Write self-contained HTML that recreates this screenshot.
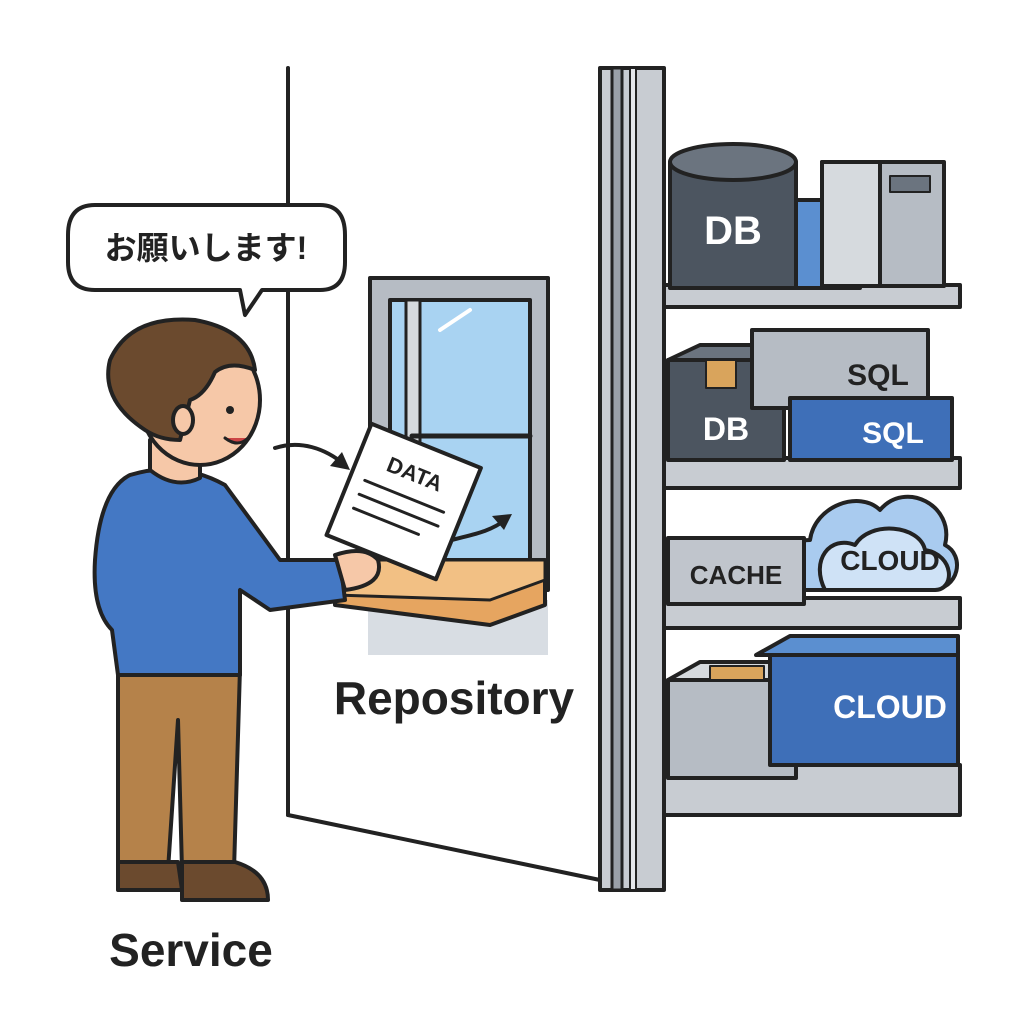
<!DOCTYPE html>
<html><head><meta charset="utf-8"><style>
html,body{margin:0;padding:0;background:#fff;}
svg{display:block;}
text{font-family:"Liberation Sans","Noto Sans CJK JP",sans-serif;font-weight:bold;}
</style></head><body>
<svg width="1024" height="1024" viewBox="0 0 1024 1024" xmlns="http://www.w3.org/2000/svg" stroke-linejoin="round" stroke-linecap="round">
<rect width="1024" height="1024" fill="#fff"/>
<polygon points="288,68 600,68 600,880 288,815" fill="#fff"/>
<line x1="288" y1="68" x2="288" y2="815" stroke="#222" stroke-width="4"/>
<line x1="288" y1="815" x2="600" y2="880" stroke="#222" stroke-width="4"/>
<rect x="600" y="68" width="64" height="822" fill="#c8ccd2" stroke="#222" stroke-width="4"/>
<rect x="612" y="68" width="10" height="822" fill="#9aa0a8" stroke="#222" stroke-width="3"/>
<rect x="630" y="68" width="6" height="822" fill="#e4e6ea" stroke="#222" stroke-width="2"/>
<g stroke="#222" stroke-width="4">
<rect x="664" y="285" width="296" height="22" fill="#c8ccd2"/>
<rect x="664" y="458" width="296" height="30" fill="#c8ccd2"/>
<rect x="664" y="598" width="296" height="30" fill="#c8ccd2"/>
<rect x="664" y="765" width="296" height="50" fill="#c8ccd2"/>
</g>
<g stroke="#222" stroke-width="4">
<rect x="670" y="162" width="126" height="126" fill="#4c5560"/>
<ellipse cx="733" cy="162" rx="63" ry="18" fill="#6b747f"/>
<rect x="796" y="200" width="64" height="88" fill="#5b8fd0"/>
<rect x="822" y="162" width="122" height="124" fill="#b6bcc4"/>
<rect x="822" y="162" width="58" height="124" fill="#d6dade"/>
<rect x="890" y="176" width="40" height="16" fill="#6b747f" stroke-width="2"/>
</g>
<text x="733" y="244" font-size="40" fill="#fff" text-anchor="middle">DB</text>
<g stroke="#222" stroke-width="4">
<rect x="668" y="360" width="116" height="100" fill="#4c5560"/>
<polygon points="668,360 700,345 812,345 784,360" fill="#6b747f"/>
<rect x="706" y="360" width="30" height="28" fill="#d9a45c" stroke-width="2"/>
<rect x="752" y="330" width="176" height="78" fill="#b6bcc4"/>
<rect x="790" y="398" width="162" height="62" fill="#3e6fb8"/>
</g>
<text x="726" y="440" font-size="32" fill="#fff" text-anchor="middle">DB</text>
<text x="878" y="385" font-size="30" fill="#222" text-anchor="middle">SQL</text>
<text x="893" y="443" font-size="30" fill="#fff" text-anchor="middle">SQL</text>
<g stroke="#222" stroke-width="4">
<path d="M790,590 C770,585 775,540 810,540 C815,505 860,490 880,510 C905,480 955,505 945,545 C965,555 960,590 930,590 Z" fill="#a9cbef"/>
<path d="M825,590 C810,560 830,535 855,545 C870,520 920,525 925,550 C955,555 955,590 935,590 Z" fill="#cfe2f6"/>
<rect x="668" y="538" width="136" height="66" fill="#c0c5cc"/>
</g>
<text x="736" y="584" font-size="26" fill="#222" text-anchor="middle">CACHE</text>
<text x="890" y="570" font-size="28" fill="#222" text-anchor="middle">CLOUD</text>
<g stroke="#222" stroke-width="4">
<rect x="668" y="680" width="128" height="98" fill="#b6bcc4"/>
<polygon points="668,680 700,662 824,662 796,680" fill="#d6dade"/>
<rect x="710" y="666" width="54" height="14" fill="#d9a45c" stroke-width="2"/>
<rect x="770" y="655" width="188" height="110" fill="#3e6fb8"/>
<polygon points="756,655 790,636 958,636 958,655" fill="#5b8fd0"/>
</g>
<text x="890" y="718" font-size="32" fill="#fff" text-anchor="middle">CLOUD</text>
<rect x="368" y="600" width="180" height="55" fill="#d8dde3"/>
<rect x="370" y="278" width="178" height="312" fill="#b6bcc4" stroke="#222" stroke-width="4"/>
<rect x="390" y="300" width="140" height="270" fill="#a9d3f2" stroke="#222" stroke-width="4"/>
<rect x="406" y="300" width="14" height="270" fill="#d6dade" stroke="#222" stroke-width="3"/>
<line x1="412" y1="436" x2="530" y2="436" stroke="#222" stroke-width="5"/>
<line x1="440" y1="330" x2="470" y2="310" stroke="#fff" stroke-width="4"/>
<polygon points="335,595 380,560 545,560 545,605 490,625 335,605" fill="#e6a560" stroke="#222" stroke-width="4"/>
<polygon points="335,595 490,600 545,580 545,560 380,560" fill="#f2c084" stroke="#222" stroke-width="3"/>
<path d="M275,448 C300,440 325,448 345,465" fill="none" stroke="#222" stroke-width="4"/>
<polygon points="350,470 330,466 342,452" fill="#222"/>
<path d="M452,540 C470,535 490,532 505,520" fill="none" stroke="#222" stroke-width="4"/>
<polygon points="512,514 492,516 504,530" fill="#222"/>
<g transform="rotate(22 400 500)">
<rect x="345" y="440" width="118" height="120" fill="#fff" stroke="#222" stroke-width="4"/>
<text x="404" y="478" font-size="22" fill="#222" text-anchor="middle" font-weight="normal">DATA</text>
<line x1="360" y1="495" x2="445" y2="495" stroke="#222" stroke-width="3"/>
<line x1="360" y1="510" x2="445" y2="510" stroke="#222" stroke-width="3"/>
<line x1="360" y1="525" x2="430" y2="525" stroke="#222" stroke-width="3"/>
</g>
<path d="M95,205 H320 Q345,205 345,235 V262 Q345,290 320,290 H262 L245,315 L240,290 H95 Q68,290 68,262 V235 Q68,205 95,205 Z" fill="#fff" stroke="#222" stroke-width="4"/>
<text x="206" y="259" font-size="32" fill="#222" text-anchor="middle">お願いします!</text>
<g stroke="#222" stroke-width="4">
<path d="M118,668 H240 L234,870 H182 L178,720 L168,870 H118 Z" fill="#b5824a"/>
<path d="M118,862 H178 L182,890 H118 Z" fill="#6b4a2e"/>
<path d="M182,862 H235 Q268,872 268,900 H182 Z" fill="#6b4a2e"/>
<path d="M130,475 Q180,460 225,485 L280,560 L340,560 L345,600 L270,610 L240,590 L240,675 H118 L112,630 Q92,610 95,560 Q100,490 130,475 Z" fill="#4478c4"/>
<path d="M335,555 Q365,545 378,560 Q385,585 345,590 Z" fill="#f6c8a8"/>
<path d="M150,470 L150,440 L200,440 L200,478 Q175,490 150,470Z" fill="#f6c8a8"/>
<ellipse cx="200" cy="400" rx="60" ry="65" fill="#f6c8a8"/>
<path d="M145,430 Q100,400 110,360 Q130,315 195,320 Q250,330 255,370 Q230,360 215,372 Q205,395 190,400 L180,440 Q160,440 145,430 Z" fill="#6b4a2e"/>
<ellipse cx="183" cy="420" rx="10" ry="14" fill="#f6c8a8"/>
</g>
<circle cx="230" cy="410" r="4" fill="#222"/>
<path d="M225,438 Q238,448 248,438" fill="#c44" stroke="#222" stroke-width="3"/>
<text x="191" y="966" font-size="46" fill="#222" text-anchor="middle">Service</text>
<text x="454" y="714" font-size="46" fill="#222" text-anchor="middle">Repository</text>
</svg>
</body></html>
